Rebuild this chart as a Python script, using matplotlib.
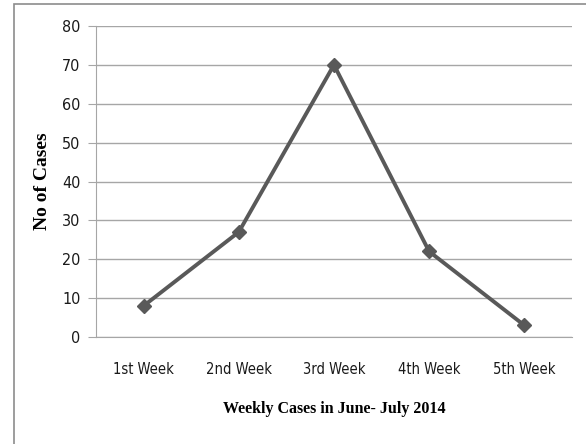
import matplotlib
matplotlib.use("Agg")
import matplotlib.pyplot as plt
from matplotlib.patches import Rectangle

weeks = ["1st Week", "2nd Week", "3rd Week", "4th Week", "5th Week"]
cases = [8, 27, 70, 22, 3]
y_ticks = [0, 10, 20, 30, 40, 50, 60, 70, 80]

tick_font = ["DejaVu Sans", "Liberation Sans"]
label_font = ["Liberation Serif", "DejaVu Serif"]

fig = plt.figure(figsize=(5.86, 4.44), dpi=100)
ax = fig.add_axes([0.1638, 0.241, 0.8122, 0.7004])

x = list(range(1, len(weeks) + 1))
ax.plot(x, cases, color="#595959", linewidth=2.8, marker="D", markersize=7,
        zorder=3)

ax.set_xlim(0.5, 5.5)
ax.set_ylim(0, 80)
ax.set_yticks(y_ticks)
ax.set_xticks(x)
ax.set_xticklabels(weeks, family=tick_font, fontsize=10.5, color="#1a1a1a",
                   fontstretch="condensed")
ax.set_yticklabels([str(v) for v in y_ticks], family=tick_font, fontsize=11.5,
                   color="#1a1a1a", fontstretch="condensed")
ax.grid(axis="y", color="#a6a6a6", linewidth=1)
ax.set_axisbelow(True)
for side in ["top", "right"]:
    ax.spines[side].set_visible(False)
ax.spines["left"].set_color("#a6a6a6")
ax.spines["bottom"].set_color("#a6a6a6")
ax.tick_params(axis="y", length=6, color="#a6a6a6", pad=5)
ax.tick_params(axis="x", length=0, pad=18)

ax.set_xlabel("Weekly Cases in June- July 2014", family=label_font,
              fontweight="bold", fontsize=11.5, labelpad=17)
ax.set_ylabel("No of Cases", family=label_font, fontweight="bold",
              fontsize=14, labelpad=8)

fig.patches.append(Rectangle((14 / 586, -0.02), 0.99, 1.02 - 4 / 444,
                             transform=fig.transFigure, fill=False,
                             edgecolor="#8c8c8c", linewidth=1.2))

fig.savefig("out.png", dpi=100)
